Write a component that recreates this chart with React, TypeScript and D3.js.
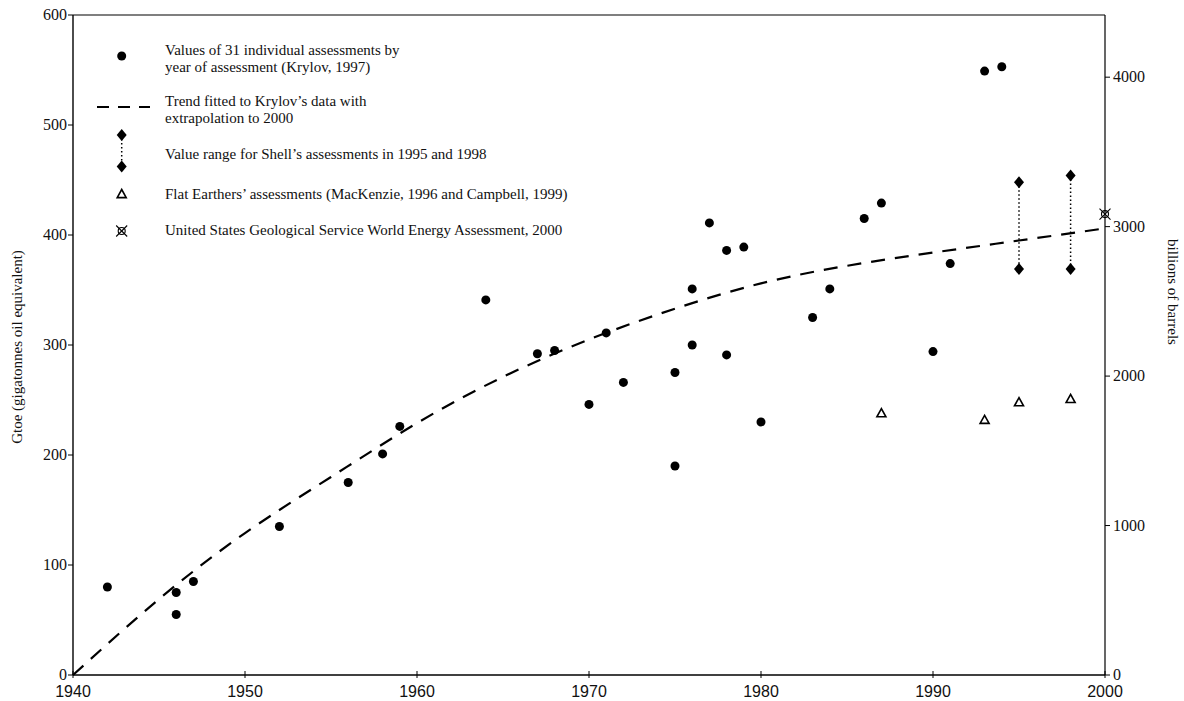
import React from "react";
import * as d3 from "d3";

const krylovYears = [1942, 1946, 1946, 1947, 1952, 1956, 1958, 1959, 1964, 1967, 1968, 1970, 1971, 1972, 1975, 1975, 1976, 1976, 1977, 1978, 1978, 1979, 1980, 1983, 1984, 1986, 1987, 1990, 1991, 1993, 1994];
const krylovValues = [80, 75, 55, 85, 135, 175, 201, 226, 341, 292, 295, 246, 311, 266, 275, 190, 351, 300, 411, 386, 291, 389, 230, 325, 351, 415, 429, 294, 374, 549, 553];

const trendYears = [1940, 1945, 1950, 1955, 1960, 1965, 1970, 1975, 1980, 1985, 1990, 1995, 2000];
const trendValues = [0, 69, 129, 180, 229, 271, 305, 333, 356, 372, 384, 395, 406];

const shellYears = [1995, 1998];
const shellLow = [369, 369];
const shellHigh = [448, 454];

const flatYears = [1987, 1993, 1995, 1998];
const flatValues = [238, 232, 248, 251];

const usgsYear = 2000;
const usgsValue = 419;

const xTicks = [1940, 1950, 1960, 1970, 1980, 1990, 2000];
const yTicksLeft = [0, 100, 200, 300, 400, 500, 600];
const yTicksRight = [0, 1000, 2000, 3000, 4000];

const legendLabels = [
  ["Values of 31 individual assessments by", "year of assessment (Krylov, 1997)"],
  ["Trend fitted to Krylov\u2019s data with", "extrapolation to 2000"],
  ["Value range for Shell\u2019s assessments in 1995 and 1998"],
  ["Flat Earthers\u2019 assessments (MacKenzie, 1996 and Campbell, 1999)"],
  ["United States Geological Service World Energy Assessment, 2000"],
];

const W = 1184, H = 701;
const L = 73, R = 1105, T = 15, B = 675;

const serif = "'Liberation Serif', 'DejaVu Serif', serif";
const sans = "'Liberation Sans', Arial, sans-serif";

function Diamond({ x, y }: { x: number; y: number }) {
  const w = 5, h = 6;
  return <path d={`M${x},${y - h}L${x + w},${y}L${x},${y + h}L${x - w},${y}Z`} fill="#000" />;
}
function Triangle({ x, y }: { x: number; y: number }) {
  const s = 4.5;
  return <path d={`M${x},${y - s}L${x + s},${y + s * 0.8}L${x - s},${y + s * 0.8}Z`} fill="none" stroke="#000" strokeWidth={1.6} />;
}
function Usgs({ x, y }: { x: number; y: number }) {
  const r = 3.5, a = 5.5;
  return (
    <g stroke="#000" strokeWidth={1.1} fill="none">
      <circle cx={x} cy={y} r={r} />
      <line x1={x - a} y1={y - a} x2={x + a} y2={y + a} />
      <line x1={x - a} y1={y + a} x2={x + a} y2={y - a} />
    </g>
  );
}

export default function App() {
  const x = d3.scaleLinear().domain([1940, 2000]).range([L, R]);
  const y = d3.scaleLinear().domain([0, 600]).range([B, T]);
  const yR = d3.scaleLinear().domain([0, 600 * 7.36]).range([B, T]);

  const trendLine = d3
    .line<number>()
    .x((_, i) => x(trendYears[i]))
    .y((v) => y(v))
    .curve(d3.curveNatural)(trendValues) as string;

  const lx = 121.7;

  return (
    <svg width={W} height={H} style={{ position: "absolute", left: 0, top: 0, background: "#fff" }}>
      <rect x={0} y={0} width={W} height={H} fill="#fff" />
      {/* frame */}
      <g stroke="#000" fill="none">
        <line x1={L} y1={T} x2={R} y2={T} strokeWidth={1.2} />
        <line x1={L} y1={T} x2={L} y2={B} strokeWidth={1.4} />
        <line x1={L} y1={B} x2={R} y2={B} strokeWidth={1.4} />
        <line x1={R} y1={T} x2={R} y2={B} strokeWidth={1.2} />
      </g>
      {/* left axis */}
      {yTicksLeft.map((t) => (
        <g key={"l" + t}>
          <line x1={L - 5} x2={L} y1={y(t)} y2={y(t)} stroke="#000" strokeWidth={1} />
          <text x={L - 6} y={y(t) + 5} textAnchor="end" fontFamily={serif} fontSize={16} fill="#111">{t}</text>
        </g>
      ))}
      {/* right axis */}
      {yTicksRight.map((t) => (
        <g key={"r" + t}>
          <line x1={R} x2={R + 5} y1={yR(t)} y2={yR(t)} stroke="#000" strokeWidth={1} />
          <text x={R + 8} y={yR(t) + 5} textAnchor="start" fontFamily={serif} fontSize={16} fill="#111">{t}</text>
        </g>
      ))}
      {/* bottom axis */}
      {xTicks.map((t) => (
        <g key={"b" + t}>
          <line x1={x(t)} x2={x(t)} y1={B - 4} y2={B + 3} stroke="#000" strokeWidth={1} />
          <text x={x(t)} y={B + 22} textAnchor="middle" fontFamily={sans} fontSize={16} fill="#111">{t}</text>
        </g>
      ))}
      {/* axis titles */}
      <text transform={`translate(22,347) rotate(-90)`} textAnchor="middle" fontFamily={serif} fontSize={15} fill="#111">
        Gtoe (gigatonnes oil equivalent)
      </text>
      <text transform={`translate(1168,292) rotate(90)`} textAnchor="middle" fontFamily={serif} fontSize={15} fill="#111">
        billions of barrels
      </text>

      {/* trend */}
      <path d={trendLine} fill="none" stroke="#000" strokeWidth={2.2} strokeDasharray="14,10" />

      {/* shell ranges */}
      {shellYears.map((yr, i) => (
        <g key={"s" + yr}>
          <line x1={x(yr)} x2={x(yr)} y1={y(shellHigh[i])} y2={y(shellLow[i])} stroke="#000" strokeWidth={1.5} strokeDasharray="1.5,2.5" />
          <Diamond x={x(yr)} y={y(shellHigh[i])} />
          <Diamond x={x(yr)} y={y(shellLow[i])} />
        </g>
      ))}

      {/* krylov */}
      {krylovYears.map((yr, i) => (
        <circle key={"k" + i} cx={x(yr)} cy={y(krylovValues[i])} r={4.5} fill="#000" />
      ))}

      {/* flat earthers */}
      {flatYears.map((yr, i) => (
        <Triangle key={"f" + i} x={x(yr)} y={y(flatValues[i])} />
      ))}

      {/* usgs */}
      <Usgs x={x(usgsYear)} y={y(usgsValue)} />

      {/* legend */}
      <g fontFamily={serif} fontSize={15} fill="#111">
        <circle cx={lx} cy={56} r={4.5} fill="#000" />
        <text x={165} y={55}>{legendLabels[0][0]}</text>
        <text x={165} y={72}>{legendLabels[0][1]}</text>

        <line x1={97} x2={150} y1={107} y2={107} stroke="#000" strokeWidth={2.2} strokeDasharray="12,9" />
        <text x={165} y={106}>{legendLabels[1][0]}</text>
        <text x={165} y={123}>{legendLabels[1][1]}</text>

        <line x1={lx} x2={lx} y1={135} y2={167} stroke="#000" strokeWidth={1.5} strokeDasharray="1.5,2.5" />
        <Diamond x={lx} y={135} />
        <Diamond x={lx} y={166.5} />
        <text x={165} y={159}>{legendLabels[2][0]}</text>

        <Triangle x={lx} y={194} />
        <text x={165} y={199}>{legendLabels[3][0]}</text>

        <Usgs x={lx} y={231} />
        <text x={165} y={235}>{legendLabels[4][0]}</text>
      </g>
    </svg>
  );
}
